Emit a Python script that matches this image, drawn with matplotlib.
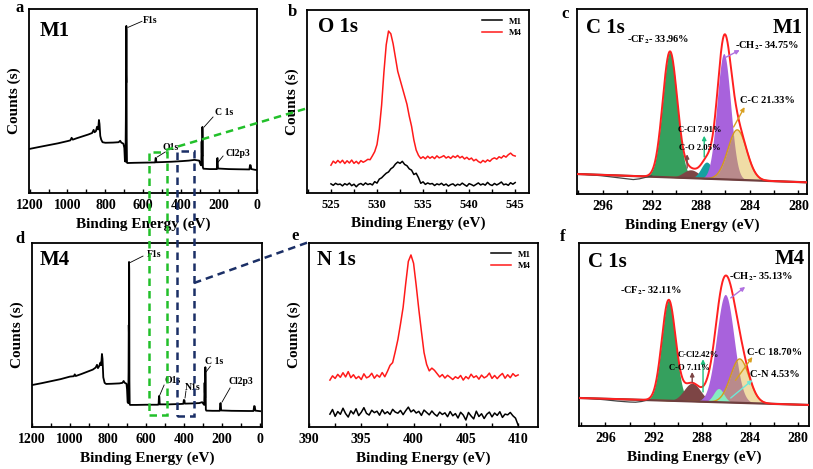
import numpy as np
import matplotlib
matplotlib.use('Agg')
import matplotlib.pyplot as plt
from matplotlib.lines import Line2D
from matplotlib.patches import Rectangle
from matplotlib.ticker import MultipleLocator

plt.rcParams['font.family'] = ['Liberation Serif', 'DejaVu Serif']
plt.rcParams['font.weight'] = 'bold'
plt.rcParams['mathtext.fontset'] = 'stix'

# ---------------- data ----------------
survey_m1_ev = [1203, 1150, 1100, 1050, 1000, 985, 978, 972, 950, 920, 890, 870, 862, 857, 850, 844, 838,
                834, 831, 827, 822, 815, 800, 760, 730, 722, 716, 705, 700, 697, 694, 692, 691, 690, 689.5,
                688.5, 687.5, 686, 684, 650, 600, 545, 537, 535, 533, 531, 500, 450, 400, 360, 330, 305,
                298, 294, 292, 291, 289, 288, 287, 285.5, 283, 250, 212, 210, 208, 206, 150, 100, 40, 37,
                33, 30, 10, 0]
survey_m1_counts = [23.9, 25.0, 26.0, 27.0, 28.2, 28.6, 30.0, 29.0, 29.8, 30.8, 31.8, 32.6, 34.3, 33.0, 33.6,
                    36.0, 34.5, 39.7, 37.5, 31.0, 29.0, 27.6, 27.3, 27.4, 27.6, 28.4, 27.4, 26.8, 24.5, 17.5,
                    17.0, 40.0, 66.8, 60.0, 90.8, 88.0, 30.0, 16.5, 16.3, 16.4, 16.5, 16.6, 16.6, 19.0, 19.0,
                    16.7, 16.8, 17.0, 17.3, 17.6, 18.0, 17.6, 15.5, 15.0, 28.0, 22.0, 20.0, 35.9, 30.0, 14.0,
                    13.2, 13.0, 13.0, 18.8, 19.0, 13.3, 13.0, 12.9, 12.8, 15.2, 15.0, 13.0, 12.6, 12.5]

survey_m4_ev = [1200, 1150, 1100, 1050, 1000, 980, 975, 970, 940, 910, 880, 865, 858, 853, 846, 840, 836,
                832, 829, 825, 818, 810, 780, 740, 724, 718, 712, 703, 700, 697, 694, 692, 691, 690, 689.5,
                688.5, 687.5, 686, 684, 650, 600, 540, 534, 532, 530, 528, 480, 420, 404, 401, 398, 396,
                360, 320, 305, 298, 294, 292, 291, 289, 288, 287, 285.5, 283, 250, 212, 210, 207, 205, 150,
                60, 35, 31, 28, 25, 0]
survey_m4_counts = [22.8, 23.8, 24.9, 26.0, 27.4, 27.6, 28.6, 27.7, 28.8, 30.0, 31.2, 32.3, 33.8, 32.0, 33.2,
                    35.0, 33.6, 39.7, 37.0, 27.0, 24.0, 23.4, 23.5, 23.7, 24.0, 25.0, 24.0, 23.5, 20.5, 13.5,
                    13.0, 30.0, 55.4, 50.0, 89.7, 86.0, 25.0, 12.5, 12.0, 12.0, 12.1, 12.1, 12.2, 16.8, 16.5,
                    12.3, 12.3, 12.5, 12.6, 14.7, 14.5, 12.7, 12.8, 13.0, 13.5, 12.5, 12.0, 24.0, 19.0, 16.0,
                    32.5, 27.0, 9.5, 8.9, 8.8, 8.8, 12.8, 13.0, 9.0, 8.8, 8.7, 8.7, 11.4, 11.2, 8.9, 8.6]

o1s_range = (525.0, 545.0)
o1s_m1 = [5.0, 4.2, 5.3, 4.6, 4.9, 3.9, 5.1, 4.4, 5.4, 4.0,
          4.8, 3.4, 4.7, 5.2, 4.3, 5.5, 4.6, 5.1, 4.4, 6.2,
          5.4, 7.6, 8.3, 9.6, 10.8, 11.5, 13.2, 14.1, 15.8, 16.9,
          16.2, 17.3, 15.6, 14.9, 13.2, 12.5, 10.1, 10.8, 8.4, 5.3,
          6.1, 4.7, 5.5, 4.9, 5.2, 4.1, 5.0, 4.5, 5.3, 4.2,
          4.9, 3.8, 4.6, 5.0, 3.9, 4.8, 4.3, 5.4, 4.5, 3.7,
          5.1, 4.6, 3.9, 4.7, 5.5, 4.4, 5.0, 4.3, 5.8, 4.6,
          4.1, 5.2, 4.4, 5.1, 6.0, 4.5, 4.9, 4.2, 5.6, 4.8,
          5.7]
o1s_m4 = [15.2, 17.4, 16.3, 17.8, 16.5, 17.9, 16.1, 17.6, 16.4, 18.0,
          16.2, 17.3, 16.0, 17.7, 16.8, 17.5, 18.4, 18.2, 20.3, 22.6,
          26.5, 35.0, 48.0, 66.0, 81.0, 88.5, 87.0, 81.5, 74.0, 66.5,
          62.0, 57.5, 53.0, 48.5, 42.0, 36.5, 29.0, 23.5, 20.6, 18.9,
          19.8, 18.7, 20.1, 19.0, 19.9, 18.8, 20.3, 19.2, 19.7, 20.4,
          19.1, 19.9, 18.9, 20.2, 19.4, 20.5, 19.2, 20.0, 18.6, 19.5,
          18.3, 19.1, 17.6, 18.4, 17.2, 16.5, 17.8, 16.9, 18.1, 17.3,
          18.6, 19.2, 18.5, 19.8, 19.1, 20.4, 19.6, 20.9, 21.8, 20.6,
          20.2]

n1s_range = (392.0, 410.0)
n1s_m1 = [7.0, 9.5, 5.8, 8.4, 6.9, 10.2, 7.3, 5.4, 8.8, 7.1,
          9.9, 6.2, 8.0, 10.5, 7.4, 6.5, 9.1, 7.8, 8.6, 6.4,
          9.4, 7.2, 8.3, 6.8, 9.6, 8.1, 7.5, 9.0, 6.7, 8.9,
          10.8, 8.2, 9.3, 7.6, 8.5, 6.3, 9.2, 7.9, 6.6, 8.7,
          7.0, 5.9, 8.1, 6.8, 7.7, 5.6, 8.4, 6.1, 7.3, 4.9,
          8.0, 6.5, 3.8, 7.9, 6.0, 4.4, 8.6, 5.7, 7.2, 4.6,
          6.9, 8.1, 5.5, 7.6, 6.3, 8.3, 5.2, 7.0, 6.6, 7.9,
          6.1, 4.8, 1.0]
n1s_m4 = [25.5, 27.8, 26.4, 28.6, 27.0, 29.5, 27.2, 30.1, 26.8, 28.4,
          26.3, 27.5, 25.8, 28.9, 26.7, 27.4, 29.2, 26.5, 28.3, 27.1,
          29.6, 27.3, 30.2, 33.5, 35.0, 41.0, 47.5, 56.0, 65.0, 78.0,
          90.0, 93.5, 89.0, 77.0, 64.0, 52.0, 40.5, 34.0, 30.5, 32.0,
          30.8, 29.0, 27.2, 28.5, 26.6, 28.1, 27.0, 25.8, 27.3, 26.4,
          28.0, 25.5, 27.4, 26.2, 28.7, 26.9, 27.8, 26.0, 28.2, 26.7,
          27.5, 29.3, 26.4, 28.0, 26.3, 27.9, 29.1, 26.5, 28.4, 26.8,
          29.0, 27.6, 28.3]

# C 1s peak fits
c1s_m1_names = ['CF2', 'C-O', 'C-Cl', 'CH2', 'C-C']
c1s_m1_center = [290.5, 288.8, 287.5, 286.1, 285.0]
c1s_m1_height = [68.0, 4.5, 9.0, 68.0, 27.0]
c1s_m1_fwhm = [1.4, 1.5, 1.1, 1.3, 1.8]
c1s_m1_baseline = [(298.1, 10.8), (279.3, 6.3)]
c1s_m1_raw_ev = [298.1, 297.0, 296.0, 295.0, 294.0, 293.5, 293.0, 292.5, 292.0]
c1s_m1_raw = [10.9, 10.4, 9.8, 9.0, 8.2, 7.8, 8.2, 9.0, 9.8]
c1s_m1_labels = ['-CF$_2$- 33.96%', 'C-O 2.05%', 'C-Cl 7.91%', '-CH$_2$- 34.75%', 'C-C 21.33%']

c1s_m4_names = ['CF2', 'C-O', 'C-Cl', 'CH2', 'C-N', 'C-C']
c1s_m4_center = [290.75, 288.8, 287.4, 286.05, 286.6, 284.85]
c1s_m4_height = [55.0, 10.0, 4.0, 59.0, 7.5, 24.0]
c1s_m4_fwhm = [1.35, 1.6, 1.0, 1.7, 1.0, 1.8]
c1s_m4_baseline = [(298.2, 15.3), (279.1, 11.5)]
c1s_m4_raw_ev = [298.2, 297.0, 296.0, 295.0, 294.0, 293.5, 293.0, 292.5]
c1s_m4_raw = [15.4, 14.9, 14.3, 13.6, 13.1, 13.0, 13.4, 14.2]
c1s_m4_labels = ['-CF$_2$- 32.11%', 'C-O 7.11%', 'C-Cl2.42%', '-CH$_2$- 35.13%', 'C-N 4.53%', 'C-C 18.70%']

# ---------------- layout ----------------
W, H = 813, 469
fig = plt.figure(figsize=(W / 100, H / 100), dpi=100)


def add_ax(l, r, t, b):
    return fig.add_axes([l / W, 1 - b / H, (r - l) / W, (b - t) / H])


def style(ax, xlim, major, minor, ylabel=True, lsize=10):
    ax.set_xlim(*xlim)
    ax.set_ylim(0, 100)
    ax.xaxis.set_major_locator(MultipleLocator(major))
    ax.xaxis.set_minor_locator(MultipleLocator(minor))
    ax.tick_params(axis='x', which='both', direction='in', length=3, width=1.0,
                   labelsize=lsize, pad=4)
    ax.set_yticks([])
    for s in ax.spines.values():
        s.set_linewidth(1.3)
    ax.set_xlabel('Binding Energy (eV)', fontsize=11, fontweight='bold', labelpad=4)
    if ylabel:
        ax.set_ylabel('Counts (s)', fontsize=11, fontweight='bold', labelpad=6)


def panel_letter(x, y, s):
    fig.text(x / W, 1 - y / H, s, fontsize=12, fontweight='bold', ha='center', va='center')


ax_a = add_ax(29, 257, 9, 193)
ax_b = add_ax(307, 529, 10, 193)
ax_c = add_ax(577, 807, 9, 194)
ax_d = add_ax(32, 262, 243, 427)
ax_e = add_ax(309, 538, 243, 427)
ax_f = add_ax(579, 809, 243, 426)

# ---- surveys ----
survey_notes_a = [('F1s', (681, 90.0), (607, 93.3), (600, 93.5)),
                  ('C 1s', (279, 35.9), (232, 41.3), (221, 43.5)),
                  ('O1s', (526, 19.6), (484, 22.3), (500, 24.5)),
                  ('Cl2p3', (205, 16.8), (179, 20.1), (168, 21.5))]
survey_notes_d = [('F1s', (689, 89.1), (616, 92.9), (595, 93.5)),
                  ('O1s', (532, 16.3), (505, 22.8), (505, 25.5)),
                  ('N1s', (395, 15.8), (390, 19.6), (395, 21.7)),
                  ('C 1s', (284, 30.0), (262, 33.0), (289, 35.5)),
                  ('Cl2p3', (200, 13.6), (158, 21.2), (168, 24.5))]

for ax, ev, cts, xl, notes, tag, tpos in [
        (ax_a, survey_m1_ev, survey_m1_counts, (1203, 0), survey_notes_a, 'M1', (0.048, 0.88)),
        (ax_d, survey_m4_ev, survey_m4_counts, (1200, -10), survey_notes_d, 'M4', (0.035, 0.91))]:
    ax.plot(ev, cts, color='black', lw=1.3)
    style(ax, xl, 200, 100)
    for lab, p0, p1, pt in notes:
        ax.plot([p0[0], p1[0]], [p0[1], p1[1]], color='black', lw=0.6)
        ax.text(pt[0], pt[1], lab, fontsize=7, fontweight='bold', ha='left', va='center')
    ax.text(tpos[0], tpos[1], tag, transform=ax.transAxes, fontsize=15, fontweight='bold',
            ha='left', va='center')

# ---- O 1s / N 1s ----
for ax, rng, m1, m4, xl, title, ls in [
        (ax_b, o1s_range, o1s_m1, o1s_m4, (522.4, 546.5), 'O 1s', 9),
        (ax_e, n1s_range, n1s_m1, n1s_m4, (390, 411.9), 'N 1s', 10)]:
    x1 = np.linspace(rng[0], rng[1], len(m1))
    x4 = np.linspace(rng[0], rng[1], len(m4))
    ax.plot(x1, m1, color='black', lw=1.1, label='M1')
    ax.plot(x4, m4, color='#ff1a1a', lw=1.1, label='M4')
    style(ax, xl, 5, 2.5, lsize=ls)
    ax.text(0.05 if title == 'O 1s' else 0.035, 0.905, title, transform=ax.transAxes, fontsize=15,
            fontweight='bold', ha='left', va='center')
    ax.legend(loc='upper right', bbox_to_anchor=(1.0, 1.0), frameon=False, fontsize=6.5,
              handlelength=2.2, labelspacing=0.35, borderaxespad=0.4)


# ---- C 1s fits ----
def gauss(x, c, h, w):
    return h * np.exp(-4 * np.log(2) * ((x - c) / w) ** 2)


colors = {'CF2': '#35a05e', 'C-O': '#7d4545', 'C-Cl': '#15a0a0', 'CH2': '#a862dc',
          'C-N': '#86ecc0', 'C-C': '#f0dca6'}
arrow_cols = {'CF2': None, 'C-O': '#7d4545', 'C-Cl': '#1fc080', 'CH2': '#b070e0',
              'C-N': '#6ee8d8', 'C-C': '#d9a020'}


def draw_c1s(ax, names, centers, heights, fwhms, base, raw_ev, raw, labels, lab_pos, arrows, xl, tag,
             tag_y):
    x = np.linspace(xl[0], xl[1], 800)
    bl = np.interp(x, [base[1][0], base[0][0]], [base[1][1], base[0][1]])
    comps = {n: gauss(x, c, h, w) for n, c, h, w in zip(names, centers, heights, fwhms)}
    order = ['CF2', 'C-O', 'C-Cl', 'CH2', 'C-C', 'C-N']
    for n in order:
        if n not in comps:
            continue
        y = comps[n]
        ax.fill_between(x, bl, bl + y, where=y > 0.05, color=colors[n], lw=0, zorder=2)
        if n == 'C-C':
            ov = np.minimum(comps['CH2'], y)
            ax.fill_between(x, bl, bl + ov, where=ov > 0.05, color='#b98a8c', lw=0, zorder=2)
            ax.plot(x, bl + y, color='#d49a1a', lw=1.0, zorder=3)
    env = bl + sum(comps.values())
    ax.plot(x, bl, color='#6e3e3e', lw=1.6, zorder=3)
    ax.plot(raw_ev, raw, color='#444444', lw=0.9, zorder=3)
    ax.plot(x, env, color='#ff2020', lw=1.4, zorder=4)
    for n, lab in zip(names, labels):
        px, py, fs = lab_pos[n]
        ax.text(px, py, lab, fontsize=fs, fontweight='bold', ha='center', va='center', zorder=6)
        if arrows.get(n):
            (x0, y0), (x1_, y1_) = arrows[n]
            ax.annotate('', xy=(x1_, y1_), xytext=(x0, y0),
                        arrowprops=dict(arrowstyle='-|>', color=arrow_cols[n], lw=1.0,
                                        mutation_scale=6, shrinkA=0, shrinkB=0), zorder=5)
    style(ax, xl, 4, 2, ylabel=False)
    ax.text(0.04, 0.895, 'C 1s', transform=ax.transAxes, fontsize=15, fontweight='bold',
            ha='left', va='center')
    ax.text(0.98, tag_y, tag, transform=ax.transAxes, fontsize=15, fontweight='bold',
            ha='right', va='center')


lab_c = {'CF2': (291.5, 83.2, 7.5), 'C-O': (288.05, 24.9, 6.2), 'C-Cl': (288.05, 34.6, 6.2),
         'CH2': (282.6, 80.0, 7.5), 'C-C': (282.5, 50.3, 7.5)}
arr_c = {'C-O': ((289.1, 14.0), (289.1, 21.5)), 'C-Cl': ((287.7, 20.0), (287.7, 31.5)),
         'CH2': ((285.9, 74.0), (284.8, 77.8)), 'C-C': ((285.3, 36.2), (284.4, 47.0))}
draw_c1s(ax_c, c1s_m1_names, c1s_m1_center, c1s_m1_height, c1s_m1_fwhm, c1s_m1_baseline,
         c1s_m1_raw_ev, c1s_m1_raw, c1s_m1_labels, lab_c, arr_c, (298.1, 279.3), 'M1', 0.895)

lab_f = {'CF2': (292.2, 73.8, 7.5), 'C-O': (289.0, 31.7, 6.2), 'C-Cl': (288.3, 38.8, 6.2),
         'CH2': (283.1, 81.3, 7.5), 'C-N': (281.95, 28.4, 7.5), 'C-C': (282.0, 40.4, 7.5)}
arr_f = {'C-O': ((288.8, 24.0), (288.8, 29.5)), 'C-Cl': ((287.9, 18.6), (287.9, 36.5)),
         'CH2': ((285.6, 70.0), (284.4, 76.0)), 'C-C': ((285.2, 25.0), (283.8, 37.7)),
         'C-N': ((285.6, 15.3), (283.8, 25.1))}
draw_c1s(ax_f, c1s_m4_names, c1s_m4_center, c1s_m4_height, c1s_m4_fwhm, c1s_m4_baseline,
         c1s_m4_raw_ev, c1s_m4_raw, c1s_m4_labels, lab_f, arr_f, (298.2, 279.1), 'M4', 0.915)

# ---- panel letters ----
for (px, py, s) in [(20, 8, 'a'), (292, 12, 'b'), (565, 14, 'c'),
                    (20, 239, 'd'), (295, 236, 'e'), (563, 237, 'f')]:
    panel_letter(px, py, s)


# ---- zoom boxes & connectors (figure pixels) ----
def fpt(px, py):
    return px / W, 1 - py / H


green = '#22c02a'
navy = '#1b2f66'
for (x0, y0, x1, y1, col) in [(149, 152, 167, 415, green), (177, 151, 194, 416, navy)]:
    fx0, fy1 = fpt(x0, y1)
    fx1, fy0 = fpt(x1, y0)
    fig.add_artist(Rectangle((fx0, fy1), fx1 - fx0, fy0 - fy1, transform=fig.transFigure,
                             fill=False, edgecolor=col, lw=1.8, ls=(0, (3, 2)), zorder=10))
for (p0, p1, col) in [((166, 150), (308, 108), green), ((194, 283), (309, 242), navy)]:
    a0, b0 = fpt(*p0)
    a1, b1 = fpt(*p1)
    fig.add_artist(Line2D([a0, a1], [b0, b1], transform=fig.transFigure, color=col, lw=1.8,
                          ls=(0, (3, 2)), zorder=10))

fig.savefig('out.png', dpi=100)
